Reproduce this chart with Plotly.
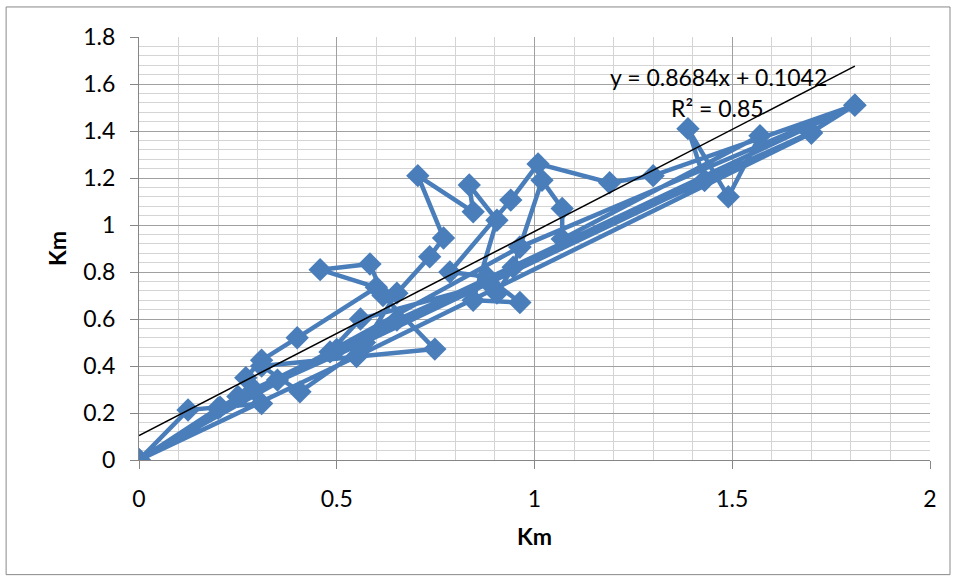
import plotly.graph_objects as go

# observed data (Km vs Km), in the drawing order of the original series
x_km = [0, 0.124, 0.205, 0.31, 0.27, 0.31, 0.40, 0.60, 0.458, 0.584, 0.617, 0.748,
        0.31, 0.407, 0.56, 0.652, 0.735, 0.77, 0.705, 0.845, 0.835, 0.905, 0.845,
        0.963, 0.88, 0.786, 0.94, 1.009, 1.19, 1.30, 1.81, 1.70, 1.43, 1.388, 1.49,
        1.57, 1.07, 1.07, 1.019, 0.963, 0.946, 0.905, 0.887, 0.56, 0.483, 0,
        0.29, 0.652, 1.70, 0.55, 0, 0.35, 0.963, 1.81, 0.50, 0, 0.25, 1.43, 0.57,
        0.20, 0]
y_km = [0, 0.213, 0.225, 0.24, 0.35, 0.425, 0.52, 0.735, 0.81, 0.834, 0.70, 0.472,
        0.40, 0.29, 0.47, 0.71, 0.865, 0.945, 1.21, 1.056, 1.17, 1.02, 0.68,
        0.67, 0.78, 0.80, 1.106, 1.26, 1.18, 1.21, 1.51, 1.395, 1.19, 1.41, 1.12,
        1.38, 0.94, 1.07, 1.19, 0.906, 0.82, 0.71, 0.75, 0.60, 0.46, 0,
        0.30, 0.596, 1.39, 0.44, 0, 0.34, 0.906, 1.51, 0.47, 0, 0.27, 1.19, 0.50,
        0.22, 0]

# linear trendline reported on the chart
trend_slope = 0.8684
trend_intercept = 0.1042
trend_r2 = 0.85

x_ticks = [0, 0.5, 1, 1.5, 2]
x_tick_labels = ["0", "0.5", "1", "1.5", "2"]
y_ticks = [0, 0.2, 0.4, 0.6, 0.8, 1.0, 1.2, 1.4, 1.6, 1.8]
y_tick_labels = ["0", "0.2", "0.4", "0.6", "0.8", "1", "1.2", "1.4", "1.6", "1.8"]

FONT = "Lato, 'Open Sans', sans-serif"
BLUE = "#4A7EBB"

fig = go.Figure()
fig.add_trace(go.Scatter(
    x=x_km, y=y_km, mode="lines+markers",
    line=dict(color=BLUE, width=4.5),
    marker=dict(symbol="diamond", size=18, color=BLUE, line=dict(width=0)),
    showlegend=False, hoverinfo="x+y",
))

tx = [0, max(x_km)]
ty = [trend_slope * v + trend_intercept for v in tx]
fig.add_trace(go.Scatter(
    x=tx, y=ty, mode="lines", line=dict(color="black", width=1.5),
    showlegend=False, hoverinfo="skip",
))

fig.add_annotation(
    x=1.464, y=1.63, xref="x", yref="y", showarrow=False,
    text=f"y = {trend_slope:.4f}x + {trend_intercept:.4f}",
    font=dict(family=FONT, size=23, color="black"),
)
fig.add_annotation(
    x=1.462, y=1.498, xref="x", yref="y", showarrow=False,
    text=f"R² = {trend_r2:.2f}",
    font=dict(family=FONT, size=23, color="black"),
)

# chart outer border
fig.add_shape(type="rect", xref="paper", yref="paper",
              x0=-0.168, x1=1.0253, y0=-0.271, y1=1.071,
              line=dict(color="#898989", width=1), fillcolor="rgba(0,0,0,0)",
              layer="below")

axis_common = dict(
    showline=True, linecolor="#868686", linewidth=1,
    ticks="outside", ticklen=8, tickcolor="#868686",
    showgrid=True, gridcolor="#A0A0A0", gridwidth=1,
    zeroline=False,
    tickfont=dict(family=FONT, size=23, color="black"),
)

fig.update_xaxes(
    range=[0, 2], tickvals=x_ticks, ticktext=x_tick_labels,
    minor=dict(dtick=0.1, showgrid=True, gridcolor="#D4D4D4", gridwidth=1),
    title=dict(text="<b>Km</b>", font=dict(family=FONT, size=23, color="black"), standoff=18),
    ticklabelstandoff=10,
    **axis_common,
)
fig.update_yaxes(
    range=[0, 1.8], tickvals=y_ticks, ticktext=y_tick_labels,
    minor=dict(dtick=0.04, showgrid=True, gridcolor="#D4D4D4", gridwidth=1),
    title=dict(text="<b>Km</b>", font=dict(family=FONT, size=23, color="black"), standoff=10),
    ticklabelstandoff=10,
    **axis_common,
)

fig.update_layout(
    width=953, height=579,
    margin=dict(l=139, r=23, t=37, b=119),
    paper_bgcolor="white", plot_bgcolor="white",
    font=dict(family=FONT),
)

fig.write_html("out.html", config={"displayModeBar": False},
               post_script="document.body.style.margin='0';")
